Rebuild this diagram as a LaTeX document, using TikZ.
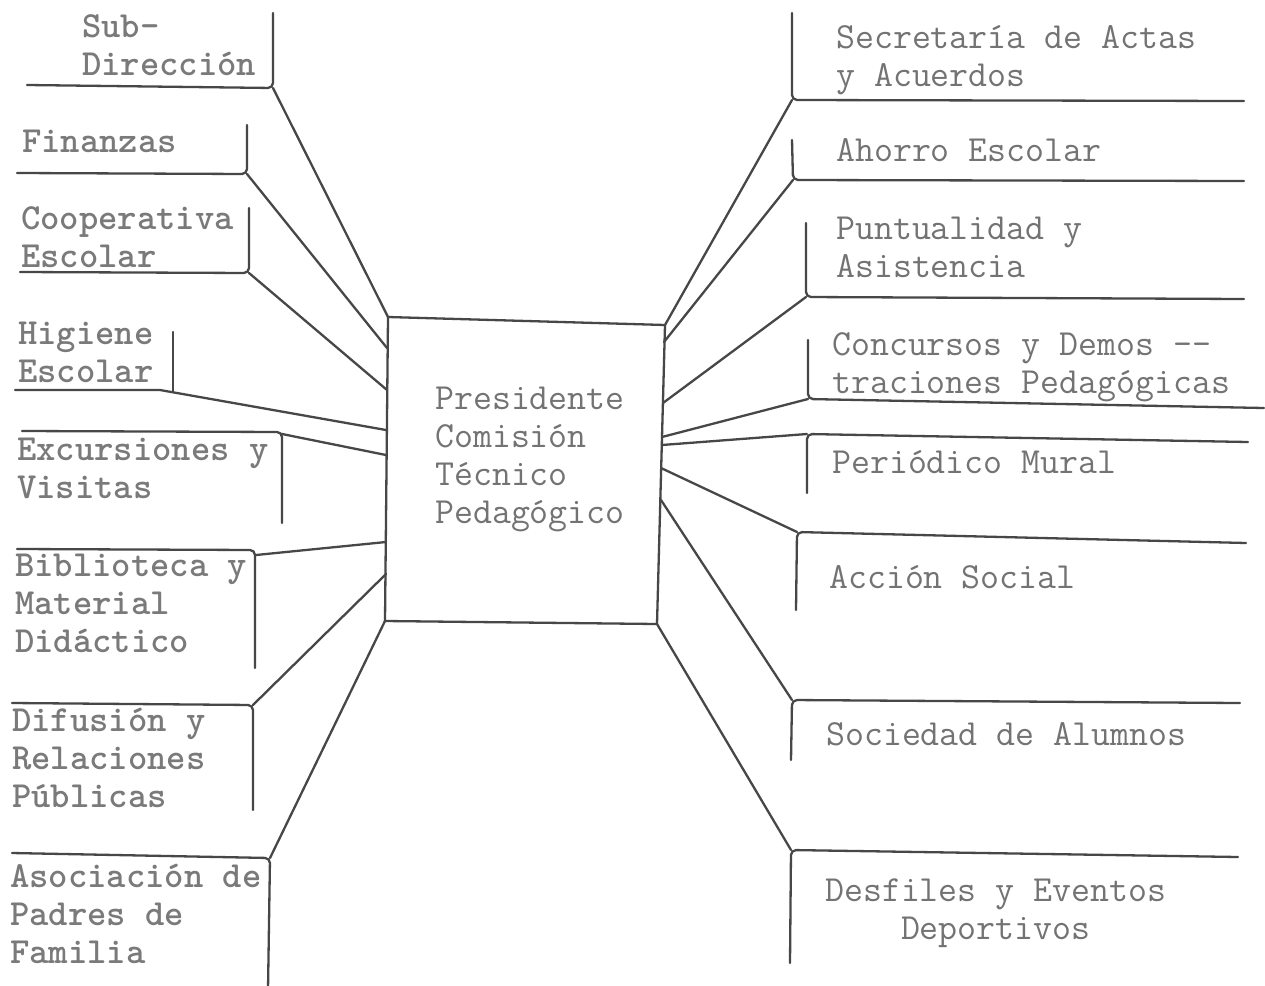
\documentclass[tikz,border=0pt]{standalone}
\usepackage{fontspec}
\begin{document}
\begin{tikzpicture}[x=1pt,y=-1pt,
  ln/.style={draw=black!72,line width=2.3pt,line cap=round,line join=round},
  brk/.style={ln,rounded corners=5pt},
  lbl/.style={font=\ttfamily\fontsize{36.8}{38}\selectfont,text=black!55,inner sep=0pt,align=left,anchor=base west},
  lbll/.style={lbl,font=\ttfamily\bfseries\fontsize{36.8}{38}\selectfont,text=black!52}]
\useasboundingbox (0,0) rectangle (1265,985);
\fill[white] (0,0) rectangle (1265,985);
% central box
\coordinate (btl) at (388,317);
\coordinate (btr) at (665,325);
\coordinate (bbr) at (657,624);
\coordinate (bbl) at (385,621);
\draw[ln] (btl) -- (btr) -- (bbr) -- (bbl) -- cycle;
\node[lbl] (pres) at (435,523) {Presidente\\Comisión\\Técnico\\Pedagógico};
% left entry points on the box
\coordinate (l2) at (387,348);
\coordinate (l3) at (387,390);
\coordinate (l4) at (386,430);
\coordinate (l5) at (386,455);
\coordinate (l6) at (386,542);
\coordinate (l7) at (386,574);
% right entry points on the box
\coordinate (r2) at (664,342);
\coordinate (r3) at (663,403);
\coordinate (r4) at (662,437);
\coordinate (r5) at (662,445);
\coordinate (r6) at (661,468);
\coordinate (r7) at (661,500);
% ---------- left side ----------
\node[lbll] (subdir) at (82,75) {Sub-\\Dirección};
\coordinate (c1) at (273,88);
\draw[brk] (273,13) -- (c1) -- (27,85);
\draw[ln] (c1) -- (btl);

\node[lbll] (fin) at (22,152) {Finanzas};
\coordinate (c2) at (247,174);
\draw[brk] (247,125) -- (c2) -- (17,173);
\draw[ln] (c2) -- (l2);

\node[lbll] (coop) at (21,267) {Cooperativa\\Escolar};
\coordinate (c3) at (249,273);
\draw[brk] (249,208) -- (c3) -- (20,272);
\draw[ln] (c3) -- (l3);

\node[lbll] (hig) at (18,382) {Higiene\\Escolar};
\coordinate (c4) at (160,390);
\draw[ln] (173,332) -- (173,392);
\draw[ln] (15,390) -- (c4) -- (l4);

\node[lbll] (exc) at (17,498) {Excursiones y\\Visitas};
\coordinate (c5) at (282,434);
\draw[brk] (22,431) -- (282,432) -- (282,523);
\draw[ln] (c5) -- (l5);

\node[lbll] (bib) at (15,652) {Biblioteca y\\Material\\Didáctico};
\coordinate (c6) at (256,555);
\draw[brk] (17,549) -- (255,550) -- (255,668);
\draw[ln] (c6) -- (l6);

\node[lbll] (dif) at (12,807) {Difusión y\\Relaciones\\Públicas};
\coordinate (c7) at (253,705);
\draw[brk] (12,703) -- (c7) -- (253,810);
\draw[ln] (c7) -- (l7);

\node[lbll] (aso) at (10,963) {Asociación de\\Padres de\\Familia};
\coordinate (c8) at (270,858);
\draw[brk] (12,853) -- (c8) -- (268,990);
\draw[ln] (c8) -- (bbl);
% ---------- right side ----------
\node[lbl] (sec) at (836,86) {Secretaría de Actas\\y Acuerdos};
\coordinate (d1) at (792,100);
\draw[brk] (792,13) -- (d1) -- (1244,101);
\draw[ln] (d1) -- (btr);

\node[lbl] (aho) at (836,161) {Ahorro Escolar};
\coordinate (d2) at (793,180);
\draw[brk] (792,140) -- (d2) -- (1244,181);
\draw[ln] (d2) -- (r2);

\node[lbl] (pun) at (836,277) {Puntualidad y\\Asistencia};
\coordinate (d3) at (806,297);
\draw[brk] (806,223) -- (d3) -- (1244,299);
\draw[ln] (d3) -- (r3);

\node[lbl] (con) at (832,393) {Concursos y Demos -{}-\\traciones Pedagógicas};
\coordinate (d4) at (808,399);
\draw[brk] (808,340) -- (d4) -- (1264,408);
\draw[ln] (d4) -- (r4);

\node[lbl] (per) at (832,473) {Periódico Mural};
\coordinate (d5) at (807,434);
\draw[brk] (807,493) -- (d5) -- (1248,442);
\draw[ln] (d5) -- (r5);

\node[lbl] (acc) at (829,588) {Acción Social};
\coordinate (d6) at (797,532);
\draw[brk] (796,610) -- (d6) -- (1246,543);
\draw[ln] (d6) -- (r6);

\node[lbl] (soc) at (826,745) {Sociedad de Alumnos};
\coordinate (d7) at (792,700);
\draw[brk] (791,760) -- (d7) -- (1240,703);
\draw[ln] (d7) -- (r7);

\node[lbl] (des) at (825,939) {Desfiles y Eventos\\\phantom{Desf}Deportivos};
\coordinate (d8) at (791,850);
\draw[brk] (790,963) -- (d8) -- (1238,857);
\draw[ln] (d8) -- (bbr);
\end{tikzpicture}
\end{document}
